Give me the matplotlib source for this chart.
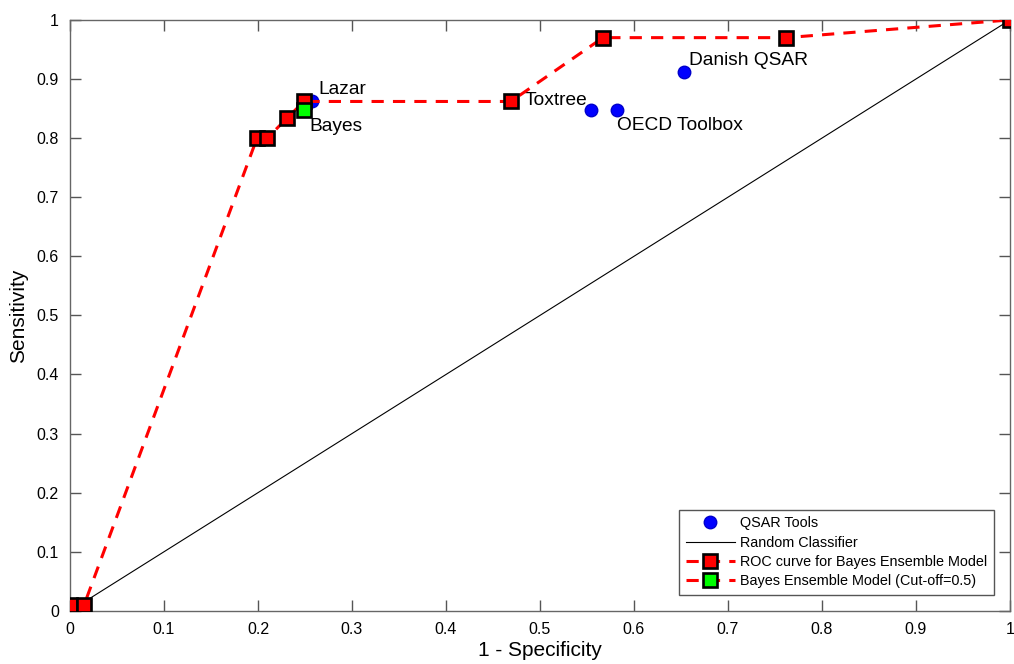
import numpy as np
import matplotlib
matplotlib.use('Agg')
from matplotlib import pyplot

# ROC curve of the Bayes ensemble model
roc_fpr = [0.0, 0.015, 0.199, 0.210, 0.231, 0.249, 0.469, 0.567, 0.762, 1.0]
roc_tpr = [0.010, 0.010, 0.800, 0.800, 0.834, 0.862, 0.862, 0.970, 0.970, 1.0]

# cut-off = 0.5 point
cut_fpr = [0.249]
cut_tpr = [0.847]

# QSAR tools
tool_names = ['Lazar', 'Toxtree', 'Toxtree2', 'OECD Toolbox', 'Danish QSAR']
tool_fpr = [0.257, 0.469, 0.554, 0.582, 0.653]
tool_tpr = [0.862, 0.862, 0.847, 0.847, 0.912]

ticks = [0, 0.1, 0.2, 0.3, 0.4, 0.5, 0.6, 0.7, 0.8, 0.9, 1]
tick_labels = ['0', '0.1', '0.2', '0.3', '0.4', '0.5', '0.6', '0.7', '0.8', '0.9', '1']


if __name__ == '__main__':

    pyplot.rcParams['font.family'] = ['Liberation Sans', 'DejaVu Sans']

    fig = pyplot.figure(figsize=(10.14, 6.64), dpi=100)
    ax = fig.add_axes([0.069, 0.080, 0.927, 0.890])

    ax.plot(tool_fpr, tool_tpr, 'o', color='#0000ff', markersize=9,
            markeredgecolor='#0000cc', label='QSAR Tools', zorder=3)
    ax.plot([0, 1], [0, 1], '-', color='black', linewidth=0.8,
            label='Random Classifier', zorder=2)
    ax.plot(roc_fpr, roc_tpr, '--', color='#ff0000', linewidth=2.2,
            dashes=(4, 3), marker='s', markersize=9.5,
            markerfacecolor='#ff0000', markeredgecolor='black',
            markeredgewidth=1.9, label='ROC curve for Bayes Ensemble Model',
            zorder=4)
    ax.plot(cut_fpr, cut_tpr, '--', color='#ff0000', linewidth=2.2,
            dashes=(4, 3), marker='s', markersize=9.5,
            markerfacecolor='#00ff00', markeredgecolor='black',
            markeredgewidth=1.9, label='Bayes Ensemble Model (Cut-off=0.5)',
            zorder=5)

    # point labels
    ax.text(0.264, 0.882, 'Lazar', fontsize=13.8, va='center', ha='left')
    ax.text(0.255, 0.820, 'Bayes', fontsize=13.8, va='center', ha='left')
    ax.text(0.484, 0.863, 'Toxtree', fontsize=13.8, va='center', ha='left')
    ax.text(0.659, 0.931, 'Danish QSAR', fontsize=13.8, va='center', ha='left')
    ax.text(0.582, 0.821, 'OECD Toolbox', fontsize=13.8, va='center', ha='left')

    ax.set_xlim(0, 1)
    ax.set_ylim(0, 1)
    ax.set_xticks(ticks)
    ax.set_xticklabels(tick_labels)
    ax.set_yticks(ticks)
    ax.set_yticklabels(tick_labels)
    ax.tick_params(direction='in', length=8, width=1, color='#555555',
                   top=True, right=True, labelsize=11.5, pad=8)
    for spine in ax.spines.values():
        spine.set_color('#666666')
        spine.set_linewidth(1)

    ax.set_xlabel('1 - Specificity', fontsize=15, labelpad=3)
    ax.set_ylabel('Sensitivity', fontsize=15, labelpad=6)

    leg = ax.legend(loc='lower right', fontsize=10.4, numpoints=1,
                    fancybox=False, framealpha=1, edgecolor='#555555',
                    handlelength=3.4, borderaxespad=1.1,
                    labelspacing=0.37, handletextpad=0.4,
                    borderpad=0.45)
    leg.get_frame().set_linewidth(1)

    pyplot.savefig('out.png', dpi=100)
